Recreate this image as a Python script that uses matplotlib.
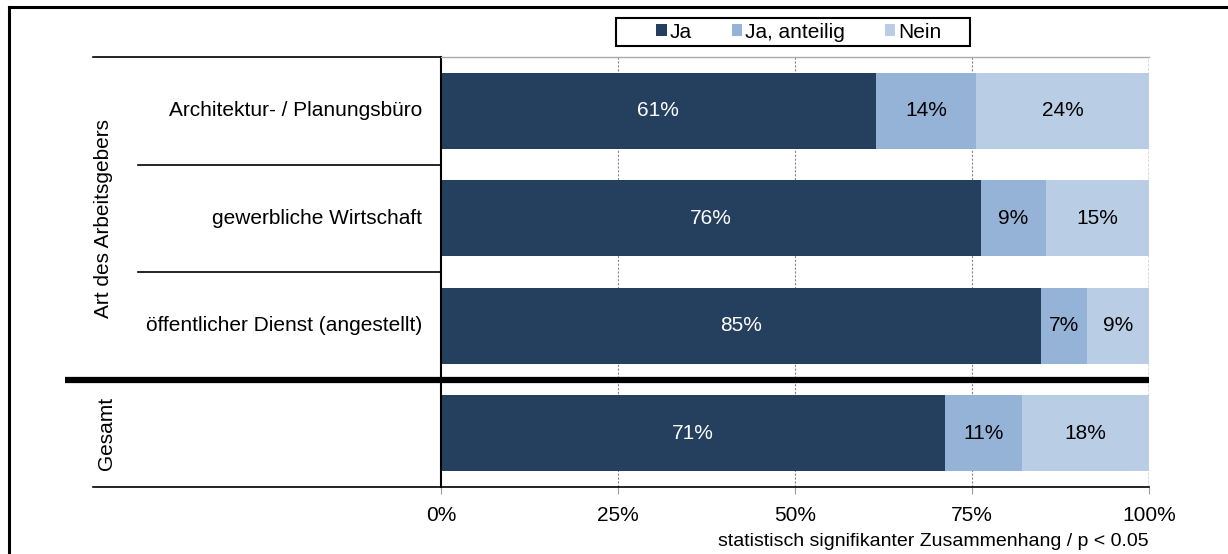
import numpy as np
import matplotlib.pyplot as plt
from matplotlib.patches import Patch, Rectangle
from matplotlib.lines import Line2D

plt.rcParams['font.family'] = ['Liberation Sans', 'DejaVu Sans']

# data (percent)
categories = ['Architektur- / Planungsbüro', 'gewerbliche Wirtschaft',
              'öffentlicher Dienst (angestellt)', '']
ja = [61.4, 76.3, 84.7, 71.2]
ja_anteilig = [14.2, 9.1, 6.6, 10.9]
nein = [24.4, 14.6, 8.7, 17.9]
series_names = ['Ja', 'Ja, anteilig', 'Nein']
colors = ['#253F5F', '#95B3D7', '#B9CDE5']
text_colors = ['white', 'black', 'black']
xticks = [0, 25, 50, 75, 100]

FS = 15
W, H = 1228, 554
fig = plt.figure(figsize=(W / 100, H / 100), dpi=100)
ax = fig.add_axes([441 / W, 1 - 487 / H, (1149 - 441) / W, (487 - 57) / H])

y = np.arange(len(categories))
left = np.zeros(len(categories))
for vals, c, tc in zip([ja, ja_anteilig, nein], colors, text_colors):
    ax.barh(y, vals, left=left, height=0.71, color=c, zorder=2)
    for yi, l, v in zip(y, left, vals):
        ax.text(l + v / 2, yi, f'{round(v):d}%', ha='center', va='center',
                color=tc, fontsize=FS, zorder=3)
    left = left + np.array(vals)

ax.set_xlim(0, 100)
ax.set_ylim(len(categories) - 0.5, -0.5)
ax.set_xticks(xticks)
ax.set_xticklabels([f'{t}%' for t in xticks], fontsize=FS)
ax.tick_params(axis='x', length=5, color='#999999', pad=9)
ax.set_yticks([])

for t in [25, 50, 75]:
    ax.axvline(t, color='#888888', lw=0.8, ls=(0, (2, 1.5)), zorder=1)
ax.axvline(100, color='#444444', lw=1.0, ls=(0, (2, 1)), zorder=1)

ax.spines['top'].set_color('#AAAAAA')
ax.spines['top'].set_linewidth(1.0)
ax.spines['right'].set_visible(False)
ax.spines['left'].set_linewidth(1.5)
ax.spines['bottom'].set_linewidth(1.2)

# category labels
for yi, cat in zip(y, categories):
    ax.text(-0.027, yi, cat, transform=ax.get_yaxis_transform(),
            ha='right', va='center', fontsize=FS)

# left table lines
tr = ax.get_yaxis_transform()
ax.plot([-0.4915, 0], [-0.5, -0.5], transform=tr, color='black', lw=1.2, clip_on=False)
for b in [0.5, 1.5]:
    ax.plot([-0.428, 0], [b, b], transform=tr, color='black', lw=1.2, clip_on=False)
ax.plot([-0.4915, 0], [3.5, 3.5], transform=tr, color='black', lw=1.2, clip_on=False)
ax.plot([-0.531, 1], [2.5, 2.5], transform=tr, color='black', lw=4.5,
        clip_on=False, zorder=5, solid_capstyle='butt')

ax.text(-0.476, 1.0, 'Art des Arbeitsgebers', transform=tr, rotation=90,
        ha='center', va='center', fontsize=FS)
ax.text(-0.472, 3.0, 'Gesamt', transform=tr, rotation=90,
        ha='center', va='center', fontsize=FS)

fig.text(1149 / W, 1 - 541 / H, 'statistisch signifikanter Zusammenhang / p < 0.05',
         ha='right', va='center', fontsize=14)

# legend
handles = [Patch(facecolor=c, edgecolor='none', label=n) for c, n in zip(colors, series_names)]
leg = fig.legend(handles=handles, loc='center', bbox_to_anchor=(799 / W, 1 - 32 / H),
                 ncol=3, fontsize=FS, frameon=False,
                 handlelength=0.5, handleheight=0.5, handletextpad=0.15,
                 columnspacing=1.9, borderpad=0, borderaxespad=0)
fig.add_artist(Rectangle((616 / W, 1 - 46 / H), (970 - 616) / W, 28 / H,
                         transform=fig.transFigure, facecolor='none',
                         edgecolor='black', lw=1.5))

# outer border
fig.add_artist(Line2D([8.5 / W, 8.5 / W], [0, 1 - 7 / H], color='black', lw=2.2))
fig.add_artist(Line2D([8.5 / W, 1], [1 - 7 / H, 1 - 7 / H], color='black', lw=2.2))

fig.savefig('out.png', dpi=100)
